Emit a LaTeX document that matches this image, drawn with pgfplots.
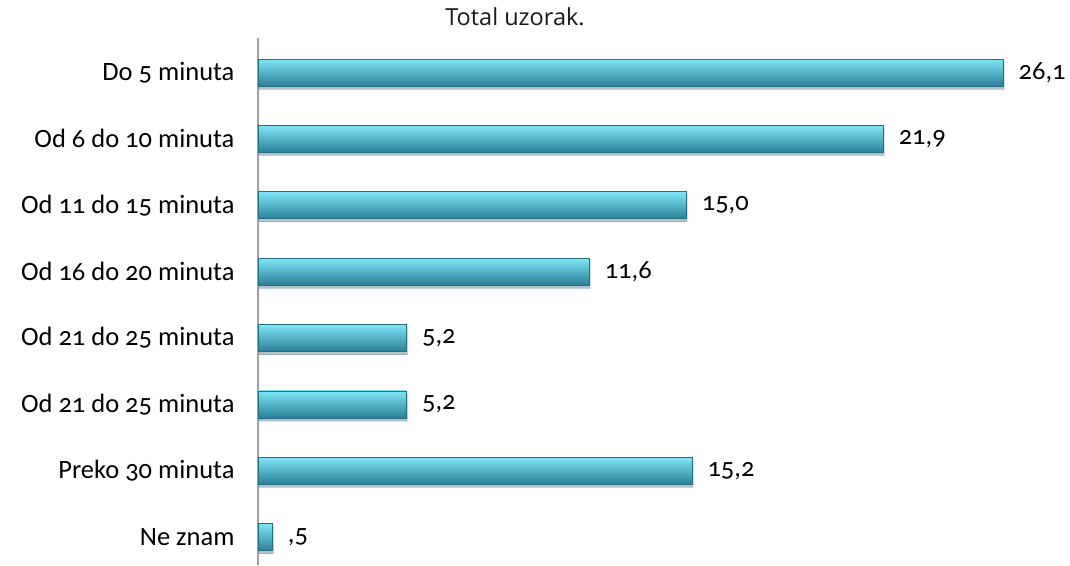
\documentclass[border=0pt]{standalone}
\usepackage{pgfplots}
\pgfplotsset{compat=1.18}
\usetikzlibrary{shadows}
\usepackage{fontspec}
\setmainfont{Carlito}[Numbers=OldStyle]
\newfontfamily\titlefont{Open Sans}

\definecolor{barTop}{HTML}{7FE6F7}
\definecolor{barMid}{HTML}{3DB5D3}
\definecolor{barBot}{HTML}{2A7F98}
\definecolor{barEdge}{HTML}{246F84}
\definecolor{axisGray}{HTML}{A0A0A0}

\pgfplotsset{
    bevelbar/.style={draw=barEdge, line width=0.6pt,
        top color=barTop, middle color=barMid, bottom color=barBot,
        drop shadow={shadow xshift=1pt, shadow yshift=-3pt, opacity=0.18, fill=black}},
}

\begin{document}
\begin{tikzpicture}[x=1pt,y=1pt]
\useasboundingbox (0,0) rectangle (1070,565);
\node[font=\titlefont\fontsize{23.5}{26}\selectfont, text=black!90] at (515,548) {Total uzorak.};
\begin{axis}[
    at={(258pt,0pt)}, anchor=south west,
    scale only axis, width=785pt, height=527pt,
    xmin=0, xmax=27.5,
    ymin=-0.52, ymax=7.42, y dir=reverse,
    axis x line=none,
    axis y line*=left,
    y axis line style={draw=axisGray, line width=1.5pt, -},
    ytick={0,...,7},
    yticklabels={Do 5 minuta, Od 6 do 10 minuta, Od 11 do 15 minuta, Od 16 do 20 minuta,
                 Od 21 do 25 minuta, Od 21 do 25 minuta, Preko 30 minuta, Ne znam},
    major tick length=0pt,
    yticklabel style={font=\fontsize{26.5}{30}\selectfont, xshift=-20pt},
    clip=false,
    xbar, bar width=27pt, bar shift=0pt,
    point meta=explicit symbolic,
    nodes near coords,
    nodes near coords style={anchor=west, xshift=12pt, font=\fontsize{26.5}{30}\selectfont, text=black},
]
\addplot[bevelbar] coordinates {(26.1,0) [26,1]};
\addplot[bevelbar] coordinates {(21.9,1) [21,9]};
\addplot[bevelbar] coordinates {(15.0,2) [15,0]};
\addplot[bevelbar] coordinates {(11.6,3) [11,6]};
\addplot[bevelbar] coordinates {(5.2,4) [5,2]};
\addplot[bevelbar] coordinates {(5.2,5) [5,2]};
\addplot[bevelbar] coordinates {(15.2,6) [15,2]};
\addplot[bevelbar] coordinates {(0.5,7) [,5]};
\end{axis}
\end{tikzpicture}
\end{document}
